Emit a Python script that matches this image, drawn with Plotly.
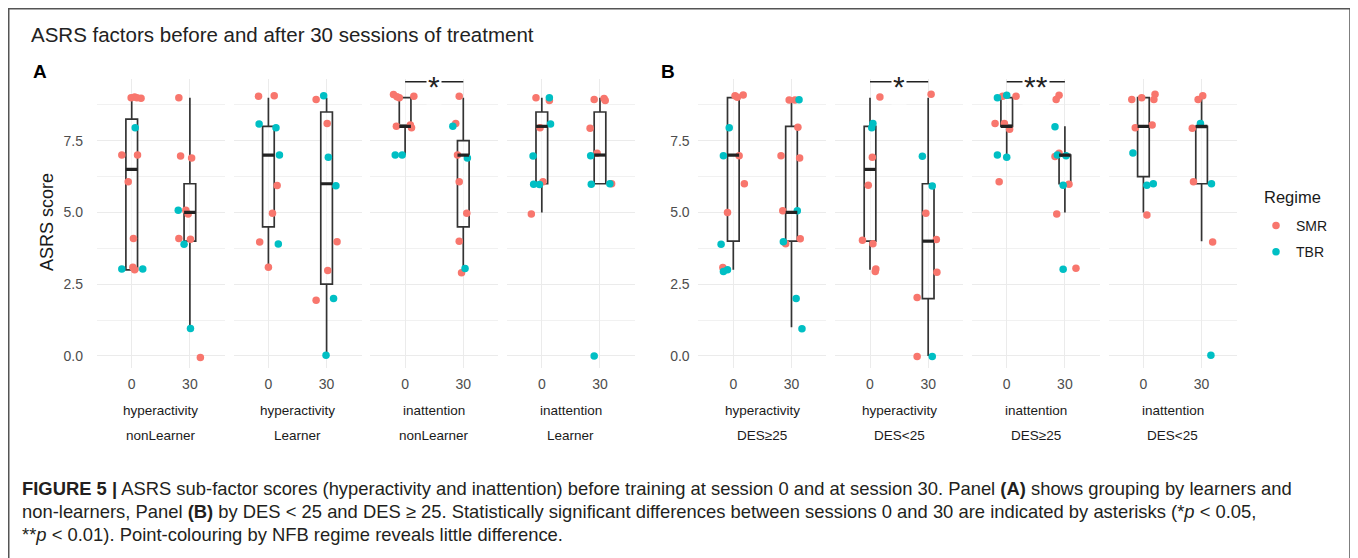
import plotly.graph_objects as go

# page body has an 8px margin: the figure is drawn 8px in from the window's top-left corner
PAGE_OFF = 8
FW, FH = 1350, 550
SMR_COLOR = "#F8766D"
TBR_COLOR = "#00BFC4"
FONT = "Liberation Sans, Arial, Helvetica, sans-serif"

# ---------------- data ----------------
session_ticks = ["0", "30"]
strip_factor = ["hyperactivity", "hyperactivity", "inattention", "inattention",
                "hyperactivity", "hyperactivity", "inattention", "inattention"]
strip_group = ["nonLearner", "Learner", "nonLearner", "Learner",
               "DES≥25", "DES<25", "DES≥25", "DES<25"]
regime_names = ["SMR", "TBR"]

# per facet: session, regime (S=SMR, T=TBR), ASRS score, horizontal jitter
A1_session = [0, 0, 0, 0, 0, 0, 0, 0, 0, 0, 0, 0, 0, 30, 30, 30, 30, 30, 30, 30, 30, 30, 30, 30]
A1_regime = "SSSSTSSSSTSST" + "SSSTSSSSTTS"
A1_score = [9.0, 9.02, 9.0, 8.98, 7.95, 7.0, 7.0, 6.07, 4.09, 3.03, 3.09, 3.0, 3.03,
            9.0, 6.97, 6.9, 5.08, 5.08, 4.95, 4.09, 4.07, 3.89, 0.96, -0.05]
A1_jitter = [-0.01, 0.05, 0.09, 0.16, 0.06, -0.17, 0.10, -0.06, 0.03, -0.17, 0.02, 0.05, 0.19,
             -0.19, -0.16, 0.03, -0.2, -0.07, -0.03, -0.19, 0.01, -0.1, 0.01, 0.18]

A2_session = [0, 0, 0, 0, 0, 0, 0, 0, 0, 0, 30, 30, 30, 30, 30, 30, 30, 30, 30, 30]
A2_regime = "SSTTTSSSTS" + "STSTTSSSTT"
A2_score = [9.05, 9.07, 8.08, 7.95, 7.0, 5.94, 4.97, 3.97, 3.9, 3.09,
            8.94, 9.07, 8.1, 6.92, 5.93, 3.98, 2.98, 1.94, 2.0, 0.02]
A2_jitter = [-0.17, 0.10, -0.16, 0.13, 0.19, 0.15, 0.07, -0.15, 0.17, 0.0,
             -0.18, -0.05, 0.01, 0.03, 0.16, 0.18, 0.02, -0.18, 0.12, -0.01]

A3_session = [0, 0, 0, 0, 0, 0, 0, 0, 0, 30, 30, 30, 30, 30, 30, 30, 30, 30, 30]
A3_regime = "SSSSSSSTT" + "SSTSTSSSTS"
A3_score = [9.11, 9.03, 9.0, 9.05, 8.0, 8.05, 7.95, 7.0, 7.0,
            9.05, 8.1, 8.0, 7.0, 6.9, 6.07, 4.97, 4.0, 3.05, 2.9]
A3_jitter = [-0.2, -0.14, -0.1, 0.15, -0.15, 0.09, 0.11, -0.17, -0.05,
             -0.07, -0.13, -0.18, -0.1, 0.07, -0.07, 0.06, -0.07, 0.03, -0.03]

A4_session = [0, 0, 0, 0, 0, 0, 0, 0, 0, 0, 30, 30, 30, 30, 30, 30, 30, 30, 30, 30]
A4_regime = "STSTSTTTSS" + "SSSSTSTSTT"
A4_score = [9.0, 9.0, 8.9, 8.08, 7.95, 6.97, 5.98, 5.97, 6.07, 4.95,
            8.94, 8.97, 8.9, 7.93, 6.98, 7.06, 5.98, 6.0, 6.0, 0.0]
A4_jitter = [-0.1, 0.13, 0.13, 0.15, -0.03, -0.15, -0.14, -0.04, 0.02, -0.18,
             -0.1, 0.07, 0.09, -0.17, -0.16, -0.05, -0.15, 0.2, 0.17, -0.1]

B1_session = [0, 0, 0, 0, 0, 0, 0, 0, 0, 0, 0, 0,
              30, 30, 30, 30, 30, 30, 30, 30, 30, 30, 30, 30, 30]
B1_regime = "SSSTTSSSTSTT" + "SSTSSSSTTSSTT"
B1_score = [9.07, 9.01, 9.09, 7.95, 6.98, 6.98, 6.0, 5.0, 3.89, 3.08, 2.94, 3.0,
            8.92, 8.92, 8.93, 7.97, 6.98, 6.9, 5.06, 5.06, 3.98, 3.91, 4.08, 2.0, 0.95]
B1_jitter = [0.03, 0.07, 0.17, -0.07, -0.17, 0.10, 0.19, -0.1, -0.21, -0.18, -0.17, -0.1,
             -0.04, 0.06, 0.13, 0.11, -0.18, 0.14, -0.15, 0.10, -0.14, -0.1, 0.15, 0.08, 0.18]

B2_session = [0, 0, 0, 0, 0, 0, 0, 0, 0, 30, 30, 30, 30, 30, 30, 30, 30, 30]
B2_regime = "STTSSSSSS" + "STTSSSSST"
B2_score = [9.02, 8.1, 7.95, 6.92, 5.95, 4.03, 3.91, 3.03, 2.94,
            9.12, 6.96, 5.92, 4.97, 4.06, 2.92, 2.04, -0.02, -0.02]
B2_jitter = [0.17, 0.05, 0.03, 0.04, -0.03, -0.13, 0.05, 0.10, 0.09,
             0.05, -0.1, 0.07, -0.04, 0.14, 0.15, -0.19, -0.19, 0.07]

B3_session = [0, 0, 0, 0, 0, 0, 0, 0, 0, 0, 30, 30, 30, 30, 30, 30, 30, 30, 30, 30, 30, 30]
B3_regime = "TSTSSSSTTS" + "SSTSSTTTSSTS"
B3_score = [9.0, 9.05, 9.08, 9.05, 8.1, 8.1, 7.9, 7.0, 6.92, 6.07,
            8.94, 9.08, 7.99, 6.95, 7.06, 7.0, 6.98, 5.95, 5.98, 4.95, 3.02, 3.06]
B3_jitter = [-0.16, -0.07, 0.0, 0.16, -0.2, -0.04, 0.05, -0.16, 0.0, -0.13,
             -0.15, -0.1, -0.17, -0.17, -0.1, -0.13, 0.02, -0.03, 0.07, -0.14, -0.03, 0.19]

B4_session = [0, 0, 0, 0, 0, 0, 0, 0, 0, 0, 30, 30, 30, 30, 30, 30, 30, 30]
B4_regime = "SSSSSSTTTS" + "SSTSSTST"
B4_score = [8.94, 9.0, 9.12, 8.94, 7.95, 8.05, 7.07, 5.95, 6.0, 4.91,
            8.94, 9.07, 8.1, 7.93, 6.07, 6.0, 3.97, 0.02]
B4_jitter = [-0.2, -0.03, 0.2, 0.18, -0.14, 0.15, -0.18, 0.06, 0.17, 0.06,
             -0.06, 0.02, -0.02, -0.16, -0.14, 0.17, 0.19, 0.16]

# boxplot statistics, two per facet (session 0, session 30)
box_q1 = [3, 4, 4.5, 2.5, 8, 4.5, 6, 6, 4, 4, 4, 2, 8, 6, 6.25, 6]
box_median = [6.5, 5, 7, 6, 8, 7, 8, 7, 7, 5, 6.5, 4, 8, 7, 8, 8]
box_q3 = [8.25, 6, 8, 8.5, 9, 7.5, 8.5, 8.5, 9, 8, 8, 6, 9, 7, 9, 8]
box_lower = [3, 1, 3, 0, 7, 3, 5, 6, 3, 1, 3, 0, 7, 5, 5, 4]
box_upper = [9, 9, 9, 9, 9, 9, 9, 9, 9, 9, 9, 9, 9, 8, 9, 9]

# significance brackets (facet index, label)
sig_facet = [2, 5, 6]
sig_label = ["*", "*", "**"]
sig_level = 9.55

facets = [
    (A1_session, A1_regime, A1_score, A1_jitter),
    (A2_session, A2_regime, A2_score, A2_jitter),
    (A3_session, A3_regime, A3_score, A3_jitter),
    (A4_session, A4_regime, A4_score, A4_jitter),
    (B1_session, B1_regime, B1_score, B1_jitter),
    (B2_session, B2_regime, B2_score, B2_jitter),
    (B3_session, B3_regime, B3_score, B3_jitter),
    (B4_session, B4_regime, B4_score, B4_jitter),
]

# ---------------- layout geometry (window pixels) ----------------
facet_left_px = [96.8, 233.5, 370.2, 506.9, 698.4, 835.1, 971.8, 1108.5]
facet_w_px = 128
panel_top_px, panel_bot_px = 79, 368
X_RANGE = [-0.6, 1.6]
Y_RANGE = [-0.42, 9.65]


def fx(px):
    return (px - PAGE_OFF) / FW


def fy(py):
    return 1 - (py - PAGE_OFF) / FH


fig = go.Figure()
layout_axes = {}
annotations = []

for i, (sess, reg, score, jit) in enumerate(facets):
    n = i + 1
    xa = "x" if n == 1 else f"x{n}"
    ya = "y" if n == 1 else f"y{n}"
    # jittered points
    for code, name, col in (("S", regime_names[0], SMR_COLOR), ("T", regime_names[1], TBR_COLOR)):
        xs, ys = [], []
        for s, r, v, j in zip(sess, reg, score, jit):
            if r == code:
                xs.append(session_ticks.index(str(s)) + j)
                ys.append(v)
        fig.add_trace(go.Scatter(
            x=xs, y=ys, mode="markers", name=name, legendgroup=name,
            showlegend=(i == 0),
            marker=dict(color=col, size=7.5, line=dict(width=0)),
            xaxis=xa, yaxis=ya, hoverinfo="skip"))
    # boxes
    k0 = 2 * i
    fig.add_trace(go.Box(
        x=[0, 1],
        q1=box_q1[k0:k0 + 2], median=box_median[k0:k0 + 2], q3=box_q3[k0:k0 + 2],
        lowerfence=box_lower[k0:k0 + 2], upperfence=box_upper[k0:k0 + 2],
        width=0.2, whiskerwidth=0, boxpoints=False,
        fillcolor="rgba(255,255,255,0.5)", line=dict(color="#333333", width=1.7),
        showlegend=False, xaxis=xa, yaxis=ya, hoverinfo="skip"))
    # thick median
    for k in range(2):
        m = box_median[k0 + k]
        fig.add_trace(go.Scatter(
            x=[k - 0.1, k + 0.1], y=[m, m], mode="lines",
            line=dict(color="#222222", width=3.2), showlegend=False,
            xaxis=xa, yaxis=ya, hoverinfo="skip"))

    left = facet_left_px[i]
    layout_axes["xaxis" if n == 1 else f"xaxis{n}"] = dict(
        domain=[fx(left), fx(left + facet_w_px)], range=X_RANGE,
        tickvals=[0, 1], ticktext=session_ticks,
        showgrid=True, gridcolor="#EBEBEB", gridwidth=1, zeroline=False, showline=False,
        ticks="outside", ticklen=3, tickcolor="rgba(0,0,0,0)",
        tickfont=dict(size=14, color="#4D4D4D", family=FONT),
        anchor=ya, fixedrange=True)
    layout_axes["yaxis" if n == 1 else f"yaxis{n}"] = dict(
        domain=[fy(panel_bot_px), fy(panel_top_px)], range=Y_RANGE,
        tickvals=[0, 2.5, 5, 7.5], ticktext=["0.0", "2.5", "5.0", "7.5"],
        showticklabels=(n in (1, 5)),
        showgrid=True, gridcolor="#EBEBEB", gridwidth=1, zeroline=False, showline=False,
        minor=dict(tickvals=[1.25, 3.75, 6.25, 8.75], showgrid=True,
                   gridcolor="#F1F1F1", gridwidth=1),
        ticks="outside", ticklen=(10 if n == 1 else 5), tickcolor="rgba(0,0,0,0)",
        tickfont=dict(size=14, color="#4D4D4D", family=FONT),
        anchor=xa, fixedrange=True)

    cx = fx(left + facet_w_px / 2)
    annotations.append(dict(xref="paper", yref="paper", x=cx, y=fy(410),
                            text=strip_factor[i], showarrow=False,
                            xanchor="center", yanchor="middle",
                            font=dict(size=13.5, color="#1A1A1A", family=FONT)))
    annotations.append(dict(xref="paper", yref="paper", x=cx, y=fy(435),
                            text=strip_group[i], showarrow=False,
                            xanchor="center", yanchor="middle",
                            font=dict(size=13.5, color="#1A1A1A", family=FONT)))

# significance brackets
for fi, lab in zip(sig_facet, sig_label):
    n = fi + 1
    xa = f"x{n}"
    ya = f"y{n}"
    fig.add_trace(go.Scatter(x=[0, 1], y=[sig_level, sig_level], mode="lines",
                             line=dict(color="#222222", width=1.5), showlegend=False,
                             xaxis=xa, yaxis=ya, hoverinfo="skip"))
    annotations.append(dict(xref=xa, yref=ya, x=0.5, y=sig_level, text=lab,
                            showarrow=False, bgcolor="white", yshift=-5,
                            xanchor="center", yanchor="middle", borderpad=1,
                            font=dict(size=30, color="#222222", family=FONT)))

# titles, panel letters, axis title, legend title
annotations += [
    dict(xref="paper", yref="paper", x=fx(29), y=fy(35),
         text="ASRS factors before and after 30 sessions of treatment",
         showarrow=False, xanchor="left", yanchor="middle",
         font=dict(size=20.5, color="#222222", family=FONT)),
    dict(xref="paper", yref="paper", x=fx(31), y=fy(72), text="<b>A</b>",
         showarrow=False, xanchor="left", yanchor="middle",
         font=dict(size=19, color="#000000", family=FONT)),
    dict(xref="paper", yref="paper", x=fx(659), y=fy(72), text="<b>B</b>",
         showarrow=False, xanchor="left", yanchor="middle",
         font=dict(size=19, color="#000000", family=FONT)),
    dict(xref="paper", yref="paper", x=fx(47), y=fy(222), text="ASRS score",
         showarrow=False, textangle=-90, xanchor="center", yanchor="middle",
         font=dict(size=18, color="#1A1A1A", family=FONT)),
    dict(xref="paper", yref="paper", x=fx(1262), y=fy(197), text="Regime",
         showarrow=False, xanchor="left", yanchor="middle",
         font=dict(size=16.5, color="#1A1A1A", family=FONT)),
]

caption_lines = [
    "<b>FIGURE 5 |</b> ASRS sub-factor scores (hyperactivity and inattention) before training at session 0 and at session 30. Panel <b>(A)</b> shows grouping by learners and",
    "non-learners, Panel <b>(B)</b> by DES &lt; 25 and DES ≥ 25. Statistically significant differences between sessions 0 and 30 are indicated by asterisks (*<i>p</i> &lt; 0.05,",
    "**<i>p</i> &lt; 0.01). Point-colouring by NFB regime reveals little difference.",
]
caption_y_px = [488, 511, 534]
for txt, ypx in zip(caption_lines, caption_y_px):
    annotations.append(dict(xref="paper", yref="paper", x=fx(20), y=fy(ypx), text=txt,
                            showarrow=False, xanchor="left", yanchor="middle",
                            font=dict(size=18.4, color="#231F20", family=FONT)))

fig.update_layout(
    width=FW, height=FH,
    margin=dict(l=0, r=0, t=0, b=0),
    paper_bgcolor="white", plot_bgcolor="white",
    font=dict(family=FONT),
    showlegend=True,
    legend=dict(x=fx(1256), y=fy(210), xanchor="left", yanchor="top",
                font=dict(size=14, color="#1A1A1A", family=FONT),
                tracegroupgap=5, bgcolor="rgba(0,0,0,0)", itemwidth=30),
    annotations=annotations,
    shapes=[dict(type="rect", xref="paper", yref="paper",
                 x0=fx(8.75), x1=fx(1350), y0=fy(620), y1=fy(8.75),
                 line=dict(color="#555555", width=1.5), fillcolor="rgba(0,0,0,0)", layer="above")],
    **layout_axes,
)

fig.write_html("out.html")
